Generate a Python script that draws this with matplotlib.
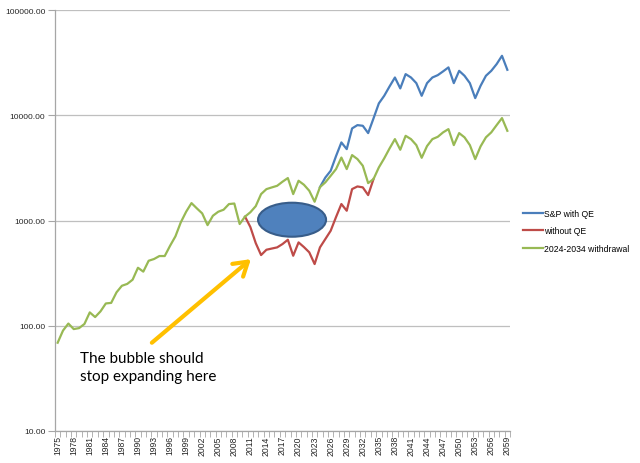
import matplotlib
matplotlib.use("Agg")
import matplotlib.pyplot as plt
from matplotlib.patches import Ellipse
from matplotlib.ticker import FixedLocator, FuncFormatter

# Categories
years = list(range(1975, 2060))

# 2024-2034 withdrawal (full range 1975-2059)
withdrawal = [
    69, 90, 105, 93, 95, 104, 134, 121, 137, 163,
    165, 208, 240, 250, 274, 356, 327, 415, 431, 460,
    460, 576, 708, 961, 1213, 1466, 1306, 1170, 905, 1111,
    1213, 1268, 1435, 1452, 927, 1090, 1200, 1370, 1785, 1990,
    2065, 2140, 2340, 2535, 1785, 2390, 2190, 1920, 1510, 2080,
    2307, 2664, 3085, 3970, 3085, 4190, 3840, 3318, 2270, 2478,
    3200, 3900, 4850, 5945, 4710, 6390, 5945, 5215, 3950, 5105,
    5945, 6250, 6890, 7400, 5215, 6780, 6180, 5215, 3840, 5070,
    6180, 6890, 8075, 9420, 7130,
]

# without QE (2010-2034)
no_qe_start = 2010
no_qe = [
    1090, 867, 611, 470, 528, 542, 556, 598, 657, 463,
    620, 560, 499, 386, 556, 667, 800, 1080, 1436, 1240,
    1991, 2110, 2067, 1746, 2478,
]

# S&P with QE (2024-2059)
qe_start = 2024
with_qe = [
    2080, 2563, 2972, 4100, 5530, 4775, 7515, 8075, 7960, 6780,
    9355, 13000, 15340, 18840, 22900, 18030, 24660, 22900, 20240, 15340,
    20240, 22900, 24100, 26180, 28560, 20240, 26500, 23770, 20240, 14580,
    19100, 23770, 26500, 30690, 36810, 27100,
]

labels = ["S&P with QE", "without QE", "2024-2034 withdrawal"]
colors = ["#4a7ebb", "#be4b48", "#98b954"]

plt.rcParams['font.family'] = ['Liberation Sans', 'DejaVu Sans']

fig = plt.figure(figsize=(6.4, 4.64), dpi=100)
ax = fig.add_axes([0.0859, 0.069, 0.711, 0.907])

idx = list(range(len(years)))
i_qe = years.index(qe_start)
i_noqe = years.index(no_qe_start)

ax.plot(idx[i_qe:i_qe + len(with_qe)], with_qe, color=colors[0], lw=1.6,
        label=labels[0], solid_joinstyle='round')
ax.plot(idx[i_noqe:i_noqe + len(no_qe)], no_qe, color=colors[1], lw=1.6,
        label=labels[1], solid_joinstyle='round')
ax.plot(idx, withdrawal, color=colors[2], lw=1.6, label=labels[2],
        solid_joinstyle='round')

ax.set_yscale('log')
ax.set_ylim(10, 100000)
ax.set_xlim(-0.5, len(years) - 0.5)

# y axis
ax.yaxis.set_major_locator(FixedLocator([10, 100, 1000, 10000, 100000]))
ax.yaxis.set_minor_locator(FixedLocator([]))
ax.yaxis.set_major_formatter(FuncFormatter(lambda v, p: "%.2f" % v))
ax.grid(axis='y', color='#bfbfbf', lw=0.9)
ax.set_axisbelow(True)

# x axis: labels every third year, tick marks between categories
ax.set_xticks(idx[::3])
ax.set_xticklabels([str(y) for y in years[::3]], rotation=90)
ax.set_xticks([i - 0.5 for i in range(len(years) + 1)], minor=True)
ax.tick_params(axis='x', which='major', length=0, pad=3, labelsize=6.2,
               labelcolor='#262626')
ax.tick_params(axis='x', which='minor', length=4, color='#a6a6a6',
               direction='out')
ax.tick_params(axis='y', which='major', length=5, color='#a6a6a6',
               labelsize=6, labelcolor='#262626', pad=2)

for s in ['top', 'right']:
    ax.spines[s].set_visible(False)
for s in ['left', 'bottom']:
    ax.spines[s].set_color('#a6a6a6')
    ax.spines[s].set_linewidth(0.9)

# bubble
ax.add_patch(Ellipse((0.521, 0.502), 0.1495, 0.0808, transform=ax.transAxes,
                     facecolor='#4f81bd', edgecolor='#385d8a', lw=1.5,
                     zorder=5))

# arrow + note
ax.annotate('', xy=(36.1, 430), xytext=(17.6, 69),
            arrowprops=dict(arrowstyle='->,head_length=0.8,head_width=0.5',
                            color='#ffc000', lw=3, mutation_scale=12,
                            shrinkA=0, shrinkB=0))
ax.text(4.2, 57, "The bubble should\nstop expanding here", fontsize=11,
        family=['Lato', 'DejaVu Sans'], va='top', ha='left',
        linespacing=1.3, color='#000000')

fig.legend(loc='center left', bbox_to_anchor=(0.817, 0.5), frameon=False,
           fontsize=6.2, handlelength=2.3, handletextpad=0.2, labelspacing=1.0,
           borderpad=0, borderaxespad=0)

fig.savefig('out.png', dpi=100)
